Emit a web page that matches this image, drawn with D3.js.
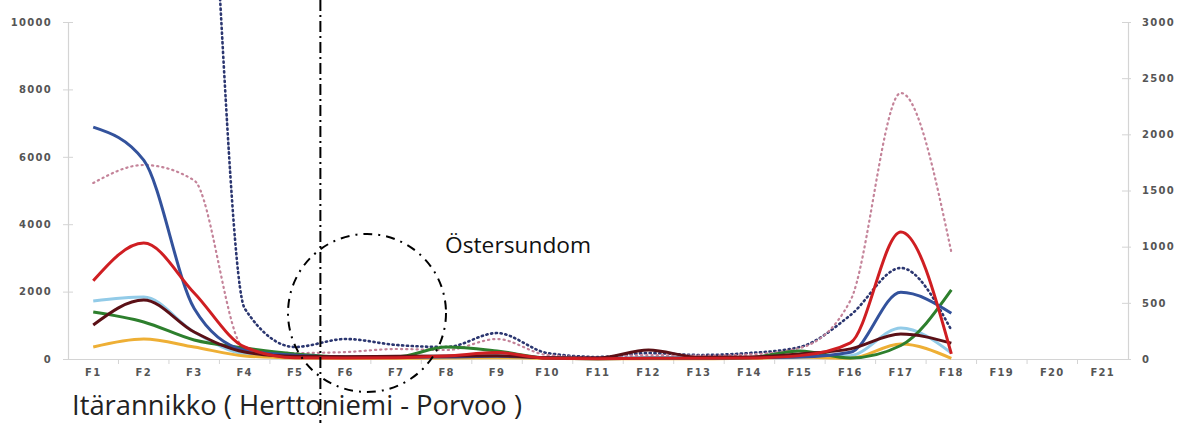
<!DOCTYPE html>
<html>
<head>
<meta charset="utf-8">
<script src="https://cdnjs.cloudflare.com/ajax/libs/d3/7.8.5/d3.min.js"></script>
<style>
  body { margin: 0; background: #fff; }
  svg { display: block; }
  .tick text { font-family: "DejaVu Sans", sans-serif; font-size: 10px; font-weight: bold; fill: #555; letter-spacing: 1.3px; }
</style>
</head>
<body>
<script>
// categories F1..F21, data only on F1..F18
var categories = d3.range(1, 22).map(function (i) { return "F" + i; });
var leftTicks = [0, 2000, 4000, 6000, 8000, 10000];
var rightTicks = [0, 500, 1000, 1500, 2000, 2500, 3000];

// solid lines (left axis)
var blueSolid = [6880, 5900, 1500, 260, 110, 60, 50, 60, 80, 40, 20, 30, 30, 40, 60, 200, 1980, 1360];
var redSolid = [2320, 3440, 1960, 356, 40, 30, 40, 90, 190, 20, 10, 20, 20, 30, 100, 480, 3770, 150];
var lightBlueSolid = [1720, 1840, 800, 150, 60, 40, 40, 50, 60, 30, 10, 20, 20, 30, 50, 100, 920, 180];
var maroonSolid = [1010, 1750, 800, 208, 80, 70, 80, 90, 100, 40, 30, 267, 50, 60, 150, 300, 740, 470];
var greenSolid = [1395, 1100, 564, 326, 150, 60, 60, 356, 237, 30, 10, 20, 20, 40, 237, 30, 400, 2050];
var orangeSolid = [356, 593, 356, 90, 30, 20, 20, 30, 40, 20, 10, 10, 10, 20, 60, 20, 445, 20];

// dotted lines (right axis), navy runs off the top at F1-F3
var navyDotted = [6200, 6000, 6000, 450, 107, 178, 125, 107, 231, 53, 18, 53, 36, 53, 107, 390, 810, 258];
var pinkDotted = [1567, 1727, 1590, 90, 53, 62, 89, 80, 178, 35, 15, 35, 30, 40, 98, 520, 2368, 952];

var W = 1190, H = 423;
var svg = d3.select("body").append("svg").attr("width", W).attr("height", H);
svg.append("rect").attr("width", W).attr("height", H).attr("fill", "#fff");

var x = d3.scaleBand().domain(categories).range([68, 1128]).padding(0);
var yL = d3.scaleLinear().domain([0, 10000]).range([359, 22]);
var yR = d3.scaleLinear().domain([0, 3000]).range([359, 22]);

// x axis
var xAxis = svg.append("g").attr("transform", "translate(0,359)")
  .call(d3.axisBottom(x).tickSize(0).tickPadding(10));
xAxis.select(".domain").attr("stroke", "#d4d4d4").attr("stroke-width", 1.2);
svg.append("g").selectAll("line").data(categories.slice(1)).join("line")
  .attr("x1", function (d) { return x(d); }).attr("x2", function (d) { return x(d); })
  .attr("y1", 359).attr("y2", 364).attr("stroke", "#d4d4d4");

// left axis
var lAxis = svg.append("g").attr("transform", "translate(68,0)")
  .call(d3.axisLeft(yL).tickValues(leftTicks).tickFormat(d3.format("d")).tickSize(5).tickPadding(11));
lAxis.select(".domain").attr("stroke", "#d4d4d4").attr("stroke-width", 1.2);
lAxis.selectAll(".tick line").attr("stroke", "#d4d4d4").attr("x2", 5).attr("x1", -5);

// right axis
var rAxis = svg.append("g").attr("transform", "translate(1128,0)")
  .call(d3.axisRight(yR).tickValues(rightTicks).tickFormat(d3.format("d")).tickSize(3).tickPadding(11));
rAxis.select(".domain").attr("stroke", "#d4d4d4").attr("stroke-width", 1.2);
rAxis.selectAll(".tick line").attr("stroke", "#d4d4d4").attr("x1", -6);

function lineFor(scale) {
  return d3.line()
    .x(function (d, i) { return x(categories[i]) + x.bandwidth() / 2; })
    .y(function (d) { return scale(d); })
    .curve(d3.curveMonotoneX);
}

var series = [
  { v: navyDotted, s: yR, c: "#2b3670", w: 2.6, dash: "1.2,3.6" },
  { v: pinkDotted, s: yR, c: "#c48399", w: 2.2, dash: "1.2,4" },
  { v: lightBlueSolid, s: yL, c: "#92cbe8", w: 3 },
  { v: orangeSolid, s: yL, c: "#eeaf35", w: 3 },
  { v: greenSolid, s: yL, c: "#2d7f2d", w: 3 },
  { v: blueSolid, s: yL, c: "#33529c", w: 3 },
  { v: maroonSolid, s: yL, c: "#5b1016", w: 3 },
  { v: redSolid, s: yL, c: "#cf1e22", w: 3 }
];

svg.append("g").selectAll("path").data(series).join("path")
  .attr("d", function (d) { return lineFor(d.s)(d.v); })
  .attr("fill", "none")
  .attr("stroke", function (d) { return d.c; })
  .attr("stroke-width", function (d) { return d.w; })
  .attr("stroke-linecap", function (d) { return d.dash ? "round" : "butt"; })
  .attr("stroke-dasharray", function (d) { return d.dash || null; });

// annotations
svg.append("line").attr("x1", x("F6")).attr("x2", x("F6")).attr("y1", 0).attr("y2", H)
  .attr("stroke", "#000").attr("stroke-width", 2).attr("stroke-dasharray", "11,4,2,4");
svg.append("circle").attr("cx", 367).attr("cy", 313).attr("r", 79)
  .attr("fill", "none").attr("stroke", "#000").attr("stroke-width", 2)
  .attr("stroke-dasharray", "9,6,2,6");

svg.append("text").attr("x", 445).attr("y", 253)
  .attr("font-family", "Open Sans, sans-serif").attr("font-size", 21)
  .attr("textLength", 146).attr("lengthAdjust", "spacingAndGlyphs")
  .attr("fill", "#111").text("Östersundom");

svg.append("text").attr("x", 72).attr("y", 415)
  .attr("font-family", "Open Sans, sans-serif").attr("font-size", 28)
  .attr("textLength", 450).attr("lengthAdjust", "spacingAndGlyphs")
  .attr("fill", "#222").text("Itärannikko ( Herttoniemi - Porvoo )");
</script>
</body>
</html>
